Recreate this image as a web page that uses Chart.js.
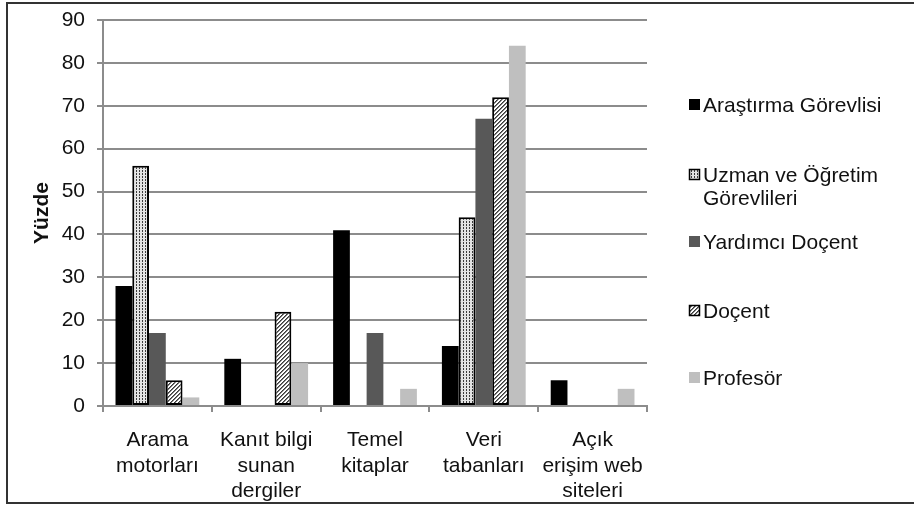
<!DOCTYPE html>
<html>
<head>
<meta charset="utf-8">
<script src="https://cdn.jsdelivr.net/npm/chart.js@4"></script>
<style>
  html, body { margin: 0; padding: 0; background: #fff; }
  #wrap { width: 914px; height: 506px; position: relative; }
</style>
</head>
<body>
<div id="wrap"><canvas id="c" width="914" height="506"></canvas></div>
<script>
// Sources of information, share of respondents per academic title (%)
const categories = [
  ["Arama", "motorları"],
  ["Kanıt bilgi", "sunan", "dergiler"],
  ["Temel", "kitaplar"],
  ["Veri", "tabanları"],
  ["Açık", "erişim web", "siteleri"]
];
const seriesNames = [
  ["Araştırma Görevlisi"],
  ["Uzman ve Öğretim", "Görevlileri"],
  ["Yardımcı Doçent"],
  ["Doçent"],
  ["Profesör"]
];
const arastirmaGorevlisi = [28, 11, 41, 14, 6];
const uzmanOgretimGorevlileri = [56, 0, 0, 44, 0];
const yardimciDocent = [17, 0, 17, 67, 0];
const docent = [6, 22, 0, 72, 0];
const profesor = [2, 10, 4, 84, 4];
const yTicks = [0, 10, 20, 30, 40, 50, 60, 70, 80, 90];

const FONT = "'Liberation Sans', Arial, sans-serif";
const canvas = document.getElementById('c');
const ctx = canvas.getContext('2d');

// Dotted fill pattern
function dotPattern() {
  const t = document.createElement('canvas');
  t.width = 3; t.height = 3;
  const g = t.getContext('2d');
  g.fillStyle = '#e4e4e4';
  g.fillRect(0, 0, 3, 3);
  g.fillStyle = '#3c3c3c';
  g.fillRect(1, 0, 1, 1);
  g.fillRect(1, 2, 1, 1);
  return ctx.createPattern(t, 'repeat');
}
// Diagonal hatch pattern
function hatchPattern() {
  const t = document.createElement('canvas');
  t.width = 4; t.height = 4;
  const g = t.getContext('2d');
  g.fillStyle = '#ffffff';
  g.fillRect(0, 0, 4, 4);
  for (let x = 0; x < 4; x++) {
    for (let y = 0; y < 4; y++) {
      const k = (x + y) % 4;
      if (k === 0) { g.fillStyle = '#3a3a3a'; g.fillRect(x, y, 1, 1); }
      if (k === 1) { g.fillStyle = '#7a7a7a'; g.fillRect(x, y, 1, 1); }
    }
  }
  return ctx.createPattern(t, 'repeat');
}

const dots = dotPattern();
const hatch = hatchPattern();

const styles = [
  { backgroundColor: '#000000', borderWidth: 0 },
  { backgroundColor: dots, borderColor: '#000000', borderWidth: 2 },
  { backgroundColor: '#585858', borderWidth: 0 },
  { backgroundColor: hatch, borderColor: '#000000', borderWidth: 2 },
  { backgroundColor: '#bfbfbf', borderWidth: 0 }
];
const values = [arastirmaGorevlisi, uzmanOgretimGorevlileri, yardimciDocent, docent, profesor];

const datasets = values.map((v, i) => Object.assign({
  label: seriesNames[i].join(' '),
  data: v,
  borderSkipped: false,
  categoryPercentage: 0.77,
  barPercentage: 1.0
}, styles[i]));

// Frame around the figure and the legend on the right
const decor = {
  id: 'decor',
  afterDraw(chart) {
    const c = chart.ctx;
    c.save();
    c.strokeStyle = '#333333';
    c.lineWidth = 2;
    c.strokeRect(7, 3, 930, 500);

    const itemY = [105, 175, 242, 311, 378];
    c.font = '21px ' + FONT;
    c.textBaseline = 'middle';
    c.textAlign = 'left';
    seriesNames.forEach((lines, i) => {
      const y = itemY[i];
      const st = styles[i];
      c.fillStyle = st.backgroundColor;
      c.fillRect(689, y - 6, 11, 11);
      if (st.borderWidth) {
        c.strokeStyle = '#000';
        c.lineWidth = 1.5;
        c.strokeRect(689.5, y - 5.5, 10, 10);
      }
      c.fillStyle = '#111';
      lines.forEach((ln, k) => c.fillText(ln, 703, y + 1 + k * 23));
    });
    c.restore();
  }
};

new Chart(ctx, {
  type: 'bar',
  data: { labels: categories, datasets },
  options: {
    responsive: false,
    animation: false,
    devicePixelRatio: 1,
    layout: { padding: { left: 30, top: 20, right: 267, bottom: 0 } },
    plugins: {
      legend: { display: false },
      tooltip: { enabled: false }
    },
    scales: {
      x: {
        afterFit(s) { s.height = 100; s.paddingLeft = 0; s.paddingRight = 0; },
        grid: { display: true, drawOnChartArea: false, drawTicks: true, tickLength: 6, color: '#8c8c8c', lineWidth: 2, offset: true },
        border: { display: true, color: '#8c8c8c', width: 2 },
        ticks: { color: '#111', font: { family: FONT, size: 21, lineHeight: 1.2 }, padding: 16, maxRotation: 0, autoSkip: false }
      },
      y: {
        min: 0, max: 90,
        afterFit(s) { s.width = 73; s.paddingTop = 0; s.paddingBottom = 0; },
        afterBuildTicks(s) { s.ticks = yTicks.map(v => ({ value: v })); },
        grid: { color: '#8c8c8c', lineWidth: 2, tickLength: 6, drawTicks: true },
        border: { display: true, color: '#8c8c8c', width: 2 },
        ticks: { color: '#111', font: { family: FONT, size: 21 }, padding: 12 },
        title: { display: true, text: 'Yüzde', color: '#111', font: { family: FONT, size: 21, weight: 'bold' }, padding: { top: 0, bottom: 0 } }
      }
    }
  },
  plugins: [decor]
});
</script>
</body>
</html>
